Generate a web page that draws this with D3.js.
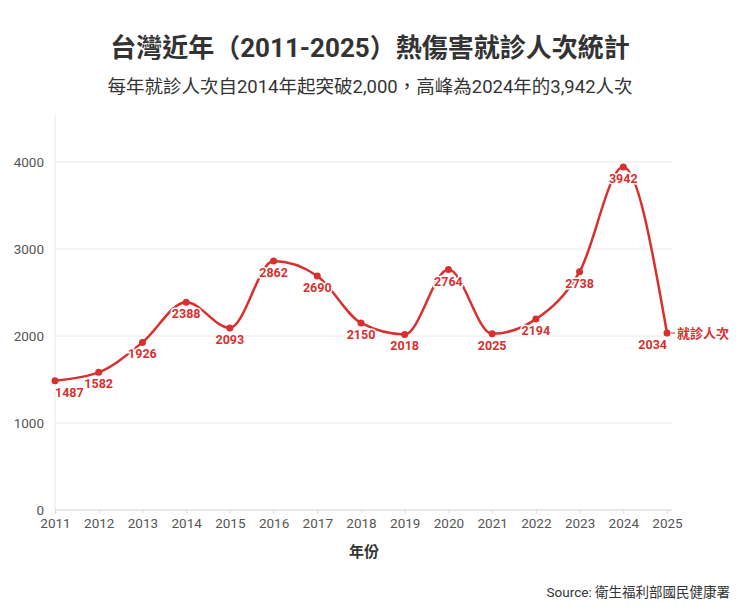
<!DOCTYPE html>
<html>
<head>
<meta charset="utf-8">
<script src="https://cdn.jsdelivr.net/npm/d3@7"></script>
<style>
  body { margin: 0; background: #fff; }
  svg { font-family: Roboto, "Noto Sans CJK TC", sans-serif; }
</style>
</head>
<body>
<svg width="740" height="611"></svg>
<script>
// data
const years = [2011, 2012, 2013, 2014, 2015, 2016, 2017, 2018, 2019, 2020, 2021, 2022, 2023, 2024, 2025];
const visits = [1487, 1582, 1926, 2388, 2093, 2862, 2690, 2150, 2018, 2764, 2025, 2194, 2738, 3942, 2034];
const yTicks = [0, 1000, 2000, 3000, 4000];
const seriesName = "就診人次";

const red = "#d8302f";
const svg = d3.select("svg");

const x = d3.scaleLinear().domain([2011, 2025]).range([55, 667]);
const y = d3.scaleLinear().domain([0, 4000]).range([510, 162]);
const plotTop = 115, plotRight = 672;

// title
svg.append("text").attr("x", 370).attr("y", 57).attr("text-anchor", "middle")
  .attr("font-size", 26).attr("font-weight", "bold").attr("fill", "#333")
  .text("台灣近年（2011-2025）熱傷害就診人次統計");
svg.append("text").attr("x", 370).attr("y", 93).attr("text-anchor", "middle")
  .attr("font-size", 18.5).attr("fill", "#333")
  .text("每年就診人次自2014年起突破2,000，高峰為2024年的3,942人次");

// gridlines
svg.append("g").selectAll("line").data(yTicks.filter(d => d > 0)).join("line")
  .attr("x1", 55).attr("x2", plotRight)
  .attr("y1", d => y(d)).attr("y2", d => y(d))
  .attr("stroke", "#e8e8e8").attr("stroke-width", 1);

// y axis line
svg.append("line").attr("x1", 55).attr("x2", 55).attr("y1", plotTop).attr("y2", 510)
  .attr("stroke", "#e8e8e8");
// baseline
svg.append("line").attr("x1", 55).attr("x2", plotRight).attr("y1", 510).attr("y2", 510)
  .attr("stroke", "#e0e0e0").attr("stroke-width", 1.5);

// y tick labels
svg.append("g").selectAll("text").data(yTicks).join("text")
  .attr("x", 44).attr("y", d => y(d)).attr("dy", "0.35em")
  .attr("text-anchor", "end").attr("font-size", 13.5).attr("fill", "#555")
  .text(d => d);

// x axis
const xAxis = d3.axisBottom(x).tickValues(years).tickFormat(d3.format("d")).tickSize(4).tickPadding(4);
const gx = svg.append("g").attr("transform", "translate(0,510)").call(xAxis);
gx.select(".domain").remove();
gx.selectAll(".tick line").attr("stroke", "#ddd");
gx.selectAll(".tick text").attr("font-size", 13.5).attr("fill", "#555")
  .attr("font-family", "Roboto, sans-serif");

svg.append("text").attr("x", 364).attr("y", 557).attr("text-anchor", "middle")
  .attr("font-size", 15).attr("font-weight", "bold").attr("fill", "#333").text("年份");

// line
const pts = years.map((yr, i) => ({ yr, v: visits[i] }));
const line = d3.line().x(d => x(d.yr)).y(d => y(d.v)).curve(d3.curveMonotoneX);
svg.append("path").datum(pts).attr("d", line)
  .attr("fill", "none").attr("stroke", red).attr("stroke-width", 2.5);

// value labels (with white halo)
svg.append("g").selectAll("text").data(pts).join("text")
  .attr("x", d => Math.max(55, Math.min(667, x(d.yr))))
  .attr("y", d => y(d.v) + 16)
  .attr("text-anchor", (d, i) => i === 0 ? "start" : (i === pts.length - 1 ? "end" : "middle"))
  .attr("font-size", 12.5).attr("font-weight", "bold").attr("fill", red)
  .attr("stroke", "#fff").attr("stroke-width", 3).attr("paint-order", "stroke")
  .text(d => d.v);

// markers
svg.append("g").selectAll("circle").data(pts).join("circle")
  .attr("cx", d => x(d.yr)).attr("cy", d => y(d.v)).attr("r", 3.5)
  .attr("fill", red);

// series label
const last = pts[pts.length - 1];
svg.append("line").attr("x1", x(last.yr) + 4).attr("x2", x(last.yr) + 8)
  .attr("y1", y(last.v)).attr("y2", y(last.v)).attr("stroke", red).attr("stroke-width", 1);
svg.append("text").attr("x", x(last.yr) + 10).attr("y", y(last.v)).attr("dy", "0.35em")
  .attr("font-size", 13).attr("font-weight", "bold").attr("fill", red).text(seriesName);

// source
svg.append("text").attr("x", 730).attr("y", 597).attr("text-anchor", "end")
  .attr("font-size", 13.5).attr("fill", "#333").text("Source: 衛生福利部國民健康署");
</script>
</body>
</html>
